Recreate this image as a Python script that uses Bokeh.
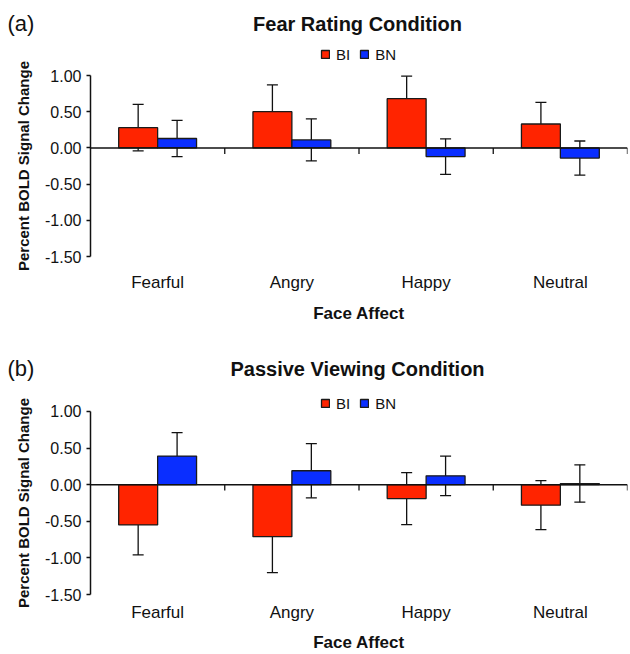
from bokeh.plotting import figure
from bokeh.models import (ColumnDataSource, Whisker, TeeHead, Span, Label, Legend,
                          LegendItem, FixedTicker, NumeralTickFormatter, Range1d, Title)
from bokeh.layouts import column, row
from bokeh.embed import file_html
from bokeh.resources import INLINE

# ---- data ----
categories = ["Fearful", "Angry", "Happy", "Neutral"]
series_names = ["BI", "BN"]
y_ticks = [-1.5, -1.0, -0.5, 0.0, 0.5, 1.0]

fear_bi = [0.28, 0.50, 0.68, 0.33]
fear_bi_err = [0.32, 0.37, 0.31, 0.30]
fear_bn = [0.13, 0.11, -0.12, -0.14]
fear_bn_err = [0.25, 0.29, 0.245, 0.235]

pass_bi = [-0.55, -0.71, -0.19, -0.28]
pass_bi_err = [0.41, 0.49, 0.355, 0.335]
pass_bn = [0.39, 0.19, 0.12, 0.015]
pass_bn_err = [0.32, 0.37, 0.27, 0.255]

FONT = "Liberation Sans"
RED = "#FF2400"
BLUE = "#0A2EFF"
INK = "#111111"
PAGE_W = 630
YTITLE = "Percent BOLD Signal Change"


def make_header(tag, title, h, yc):
    p = figure(width=PAGE_W, height=h, x_range=Range1d(0, PAGE_W), y_range=Range1d(0, h),
               x_axis_location=None, y_axis_location=None,
               min_border=0, min_border_left=0, min_border_right=0,
               min_border_top=0, min_border_bottom=0,
               output_backend="svg", toolbar_location=None)
    p.outline_line_color = None
    p.xgrid.grid_line_color = None
    p.ygrid.grid_line_color = None
    p.add_layout(Label(x=7, y=yc, x_units="screen", y_units="screen", text=tag,
                       text_font=FONT, text_font_size="22px", text_baseline="middle",
                       text_align="left", text_color=INK))
    p.add_layout(Label(x=357, y=yc, x_units="screen", y_units="screen", text=title,
                       text_font=FONT, text_font_size="20px", text_font_style="bold",
                       text_baseline="middle", text_align="center", text_color=INK))
    return p


def make_main(bi, bi_err, bn, bn_err, h, border_top, pad_top, axis_h,
              cat_standoff, title_standoff, legend_bottom, ytitle_offset):
    bl, br = 90, 3
    bb = h - border_top - pad_top - axis_h
    n = len(categories)
    span = y_ticks[-1] - y_ticks[0]
    y_max = y_ticks[-1] + span * pad_top / axis_h
    p = figure(width=PAGE_W, height=h, x_range=Range1d(0, n),
               y_range=Range1d(y_ticks[0], y_max),
               output_backend="svg", toolbar_location=None,
               min_border_left=bl, min_border_right=br,
               min_border_top=border_top, min_border_bottom=bb)
    p.outline_line_color = None
    p.xgrid.grid_line_color = None
    p.ygrid.grid_line_color = None

    bw = 0.29
    x_bi = [i + 0.5 - bw / 2 for i in range(n)]
    x_bn = [i + 0.5 + bw / 2 for i in range(n)]
    src_bi = ColumnDataSource(dict(x=x_bi, top=bi,
                                   upper=[v + e for v, e in zip(bi, bi_err)],
                                   lower=[v - e for v, e in zip(bi, bi_err)]))
    src_bn = ColumnDataSource(dict(x=x_bn, top=bn,
                                   upper=[v + e for v, e in zip(bn, bn_err)],
                                   lower=[v - e for v, e in zip(bn, bn_err)]))
    r_bi = p.vbar(x="x", top="top", bottom=0, width=bw, source=src_bi,
                  fill_color=RED, line_color="#1a1a1a", line_width=1.3)
    r_bn = p.vbar(x="x", top="top", bottom=0, width=bw, source=src_bn,
                  fill_color=BLUE, line_color="#1a1a1a", line_width=1.3)

    p.add_layout(Span(location=0, dimension="width", line_color=INK, line_width=1.5))
    tick_len = 6 * span / axis_h
    bounds = [i + 1 for i in range(n)]
    p.segment(x0=bounds, y0=[0] * n, x1=bounds, y1=[-tick_len] * n,
              line_color=INK, line_width=1.3)

    for src in (src_bi, src_bn):
        p.add_layout(Whisker(base="x", upper="upper", lower="lower", source=src,
                             dimension="height", line_color=INK, line_width=1.3,
                             upper_head=TeeHead(size=11, line_width=1.3, line_color=INK),
                             lower_head=TeeHead(size=11, line_width=1.3, line_color=INK)))

    ya = p.yaxis[0]
    ya.bounds = (y_ticks[0], y_ticks[-1])
    ya.ticker = FixedTicker(ticks=y_ticks)
    ya.formatter = NumeralTickFormatter(format="0.00")
    ya.minor_tick_line_color = None
    ya.major_tick_in = 0
    ya.major_tick_out = 4
    ya.axis_line_width = 1.5
    ya.axis_line_color = INK
    ya.major_tick_line_color = INK
    ya.major_tick_line_width = 1.3
    ya.major_label_text_font = FONT
    ya.major_label_text_font_size = "16px"
    ya.major_label_text_color = INK
    ya.major_label_standoff = 5
    # y title, positioned along the axis bounds rather than the (taller) frame
    p.add_layout(Title(text=YTITLE, align="left", offset=ytitle_offset, standoff=22,
                       text_font=FONT, text_font_size="15px", text_font_style="bold",
                       text_color=INK), "left")

    xa = p.xaxis[0]
    xa.ticker = FixedTicker(ticks=[i + 0.5 for i in range(n)])
    xa.major_label_overrides = {i + 0.5: c for i, c in enumerate(categories)}
    xa.axis_line_color = None
    xa.major_tick_line_color = None
    xa.minor_tick_line_color = None
    xa.major_tick_in = 0
    xa.major_tick_out = 0
    xa.major_label_text_font = FONT
    xa.major_label_text_font_size = "17px"
    xa.major_label_text_color = INK
    xa.major_label_standoff = cat_standoff
    xa.axis_label = "Face Affect"
    xa.axis_label_text_font = FONT
    xa.axis_label_text_font_size = "17px"
    xa.axis_label_text_font_style = "bold"
    xa.axis_label_text_color = INK
    xa.axis_label_standoff = title_standoff

    legend = Legend(items=[LegendItem(label=series_names[0], renderers=[r_bi]),
                           LegendItem(label=series_names[1], renderers=[r_bn])],
                    orientation="horizontal", location=(230, legend_bottom),
                    glyph_width=10, glyph_height=10, label_standoff=6, spacing=9,
                    label_width=0, padding=0, margin=0,
                    label_text_font=FONT, label_text_font_size="15px",
                    label_text_color=INK,
                    background_fill_alpha=0, border_line_alpha=0)
    p.add_layout(legend)
    return p


# panel (a): page rows 0-40 header, 40-327 plot
head_a = make_header("(a)", "Fear Rating Condition", 40, 17)
main_a = make_main(fear_bi, fear_bi_err, fear_bn, fear_bn_err, h=287, border_top=2,
                   pad_top=33, axis_h=181, cat_standoff=16, title_standoff=9,
                   legend_bottom=193.5, ytitle_offset=-14.5)

# panel (b): page rows 327-382 header, 382-654 plot
head_b = make_header("(b)", "Passive Viewing Condition", 55, 14)
main_b = make_main(pass_bi, pass_bi_err, pass_bn, pass_bn_err, h=272, border_top=10,
                   pad_top=19, axis_h=184, cat_standoff=8, title_standoff=8,
                   legend_bottom=182.5, ytitle_offset=-13.5)

layout = column(head_a, row(main_a), head_b, row(main_b))
open("out.html", "w").write(file_html(layout, INLINE))
